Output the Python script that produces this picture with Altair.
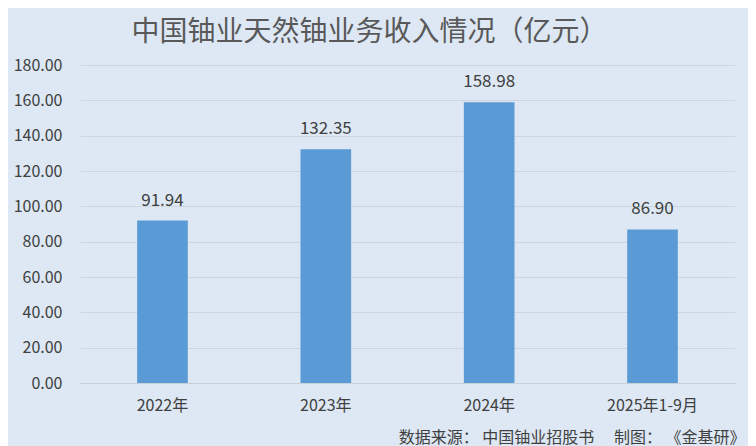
import altair as alt
import pandas as pd

categories = ["2022年", "2023年", "2024年", "2025年1-9月"]
values = [91.94, 132.35, 158.98, 86.90]

df = pd.DataFrame({"cat": categories, "val": values})
FONT = "Noto Sans CJK SC"

base = alt.Chart(df).encode(
    x=alt.X("cat:N", sort=categories,
            scale=alt.Scale(paddingInner=0.69, paddingOuter=0.35),
            axis=alt.Axis(title="数据来源：  中国铀业招股书\u3000 制图：  《金基研》",
                          titleX=665, titleAlign="right", titleFontSize=16,
                          titleFontWeight="normal",
                          titleColor="#404040", titleFont=FONT, titlePadding=16,
                          labelAngle=0, labelFontSize=16, labelColor="#404040", labelFont=FONT,
                          labelPadding=14, ticks=False, domainColor="#c8d0d8", grid=False)),
    y=alt.Y("val:Q", scale=alt.Scale(domain=[0, 180]),
            axis=alt.Axis(title=None, values=list(range(0, 181, 20)), format=".2f",
                          labelFontSize=16, labelColor="#404040", labelFont=FONT,
                          labelPadding=18, ticks=False, domain=False,
                          gridColor="#cdd6e0", gridWidth=1)),
)

bars = base.mark_bar(color="#5b9bd5")
labels = base.mark_text(dy=-20, fontSize=17, color="#404040", font=FONT).encode(
    text=alt.Text("val:Q", format=".2f"))

chart = (bars + labels).properties(
    width=655, height=318,
    background="#dde8f4",
    padding={"left": 72, "top": 57, "right": 13, "bottom": 63},
    autosize=alt.AutoSizeParams(type="none"),
    title=alt.TitleParams("中国铀业天然铀业务收入情况（亿元）", fontSize=28, font=FONT,
                          fontWeight="normal", color="#595959", anchor="middle", offset=10, dx=-38),
).configure_view(stroke=None)

chart.save("out.html", embed_options={"renderer": "svg", "actions": False})
